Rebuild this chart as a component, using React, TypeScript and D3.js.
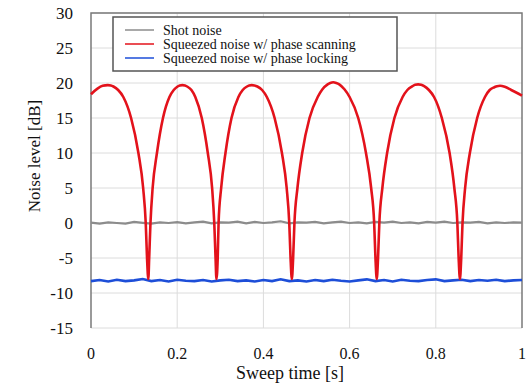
import React from "react";
import * as d3 from "d3";

const W = 526;
const H = 386;

const xTicks = [0, 0.2, 0.4, 0.6, 0.8, 1];
const xTickLabels = ["0", "0.2", "0.4", "0.6", "0.8", "1"];
const yTicks = [-15, -10, -5, 0, 5, 10, 15, 20, 25, 30];

const legendLabels = [
  "Shot noise",
  "Squeezed noise w/ phase scanning",
  "Squeezed noise w/ phase locking",
];
const seriesColors = ["#8c8c8c", "#e3121b", "#1d4ed8"];

// Squeezed noise w/ phase scanning: [time, dB]
const scanX = [
  0, 0.015, 0.027, 0.039, 0.046, 0.052, 0.063, 0.075, 0.093, 0.110, 0.121, 0.127, 0.130, 0.133,
  0.135, 0.138, 0.143, 0.153, 0.167, 0.182, 0.192, 0.201, 0.206, 0.212, 0.218,
  0.223, 0.233, 0.242, 0.257, 0.271, 0.281, 0.286, 0.289, 0.291,
  0.294, 0.296, 0.302, 0.312, 0.326, 0.342, 0.352, 0.362, 0.367, 0.373, 0.379,
  0.386, 0.397, 0.408, 0.426, 0.443, 0.454, 0.460, 0.463, 0.466,
  0.469, 0.472, 0.479, 0.490, 0.507, 0.526, 0.537, 0.549, 0.555, 0.562, 0.569,
  0.576, 0.588, 0.600, 0.620, 0.638, 0.650, 0.657, 0.660, 0.663,
  0.666, 0.669, 0.676, 0.687, 0.704, 0.723, 0.734, 0.746, 0.752, 0.759, 0.766,
  0.773, 0.784, 0.796, 0.814, 0.832, 0.843, 0.850, 0.853, 0.856,
  0.859, 0.862, 0.868, 0.879, 0.896, 0.914, 0.925, 0.936, 0.942, 0.949, 0.960,
  0.975, 1.0,
];
const scanY = [
  18.4, 19.2, 19.6, 19.7, 19.65, 19.5, 19, 18, 15, 10, 5, 0, -5, -8,
  -5, 0, 5, 10, 15, 18, 19, 19.5, 19.65, 19.7, 19.65,
  19.5, 19, 18, 15, 10, 5, 0, -5, -8,
  -5, 0, 5, 10, 15, 18, 19, 19.5, 19.65, 19.7, 19.65,
  19.5, 19, 18, 15, 10, 5, 0, -5, -8,
  -5, 0, 5, 10, 15, 18, 19.1, 19.8, 20.0, 20.1, 20.0,
  19.8, 19.1, 18, 15, 10, 5, 0, -5, -8,
  -5, 0, 5, 10, 15, 18, 19, 19.55, 19.75, 19.8, 19.75,
  19.55, 19, 18, 15, 10, 5, 0, -5, -8,
  -5, 0, 5, 10, 15, 18, 19, 19.4, 19.55, 19.6, 19.45,
  19.0, 18.2,
];

// Shot noise and phase-locked squeezed noise (flat traces with small ripple)
const flatX = [
  0, 0.02, 0.04, 0.06, 0.08, 0.1, 0.12, 0.14, 0.16, 0.18, 0.2, 0.22, 0.24,
  0.26, 0.28, 0.3, 0.32, 0.34, 0.36, 0.38, 0.4, 0.42, 0.44, 0.46, 0.48, 0.5,
  0.52, 0.54, 0.56, 0.58, 0.6, 0.62, 0.64, 0.66, 0.68, 0.7, 0.72, 0.74, 0.76,
  0.78, 0.8, 0.82, 0.84, 0.86, 0.88, 0.9, 0.92, 0.94, 0.96, 0.98, 1.0,
];
const shotY = [
  0.05, -0.1, 0.1, 0, -0.08, 0.15, 0.02, -0.1, 0.1, 0.0, 0.12, -0.05, 0.08,
  0.2, -0.05, 0.1, 0.05, 0.2, -0.05, 0.15, 0.0, 0.1, 0.25, -0.05, 0.1, 0.05,
  0.15, -0.05, 0.1, 0.2, 0.0, 0.1, -0.05, 0.15, 0.05, 0.2, 0.0, 0.1, -0.05,
  0.15, 0.05, 0.2, 0.0, 0.1, 0.05, 0.15, -0.05, 0.1, 0.0, 0.1, 0.05,
];
const lockY = [
  -8.3, -8.15, -8.35, -8.1, -8.3, -8.2, -8.0, -8.3, -8.15, -8.35, -8.1, -8.25,
  -8.3, -8.15, -8.35, -8.2, -8.1, -8.3, -8.2, -8.35, -8.15, -8.3, -8.05, -8.3,
  -8.2, -8.35, -8.15, -8.3, -8.1, -8.25, -8.35, -8.2, -8.05, -8.3, -8.15, -8.35,
  -8.1, -8.25, -8.3, -8.15, -8.05, -8.3, -8.2, -8.1, -8.3, -8.15, -8.25, -8.1,
  -8.3, -8.2, -8.15,
];

export default function App() {
  const left = 91;
  const right = 522;
  const top = 13;
  const bottom = 328;

  const x = d3.scaleLinear().domain([0, 1]).range([left, right]);
  const y = d3.scaleLinear().domain([-15, 30]).range([bottom, top]);

  const line = d3
    .line<[number, number]>()
    .x((d) => x(d[0]))
    .y((d) => y(d[1]))
    .curve(d3.curveMonotoneX);
  const straight = d3
    .line<[number, number]>()
    .x((d) => x(d[0]))
    .y((d) => y(d[1]));

  const scanPts = scanX.map((v, i) => [v, scanY[i]] as [number, number]);
  const shotPts = flatX.map((v, i) => [v, shotY[i]] as [number, number]);
  const lockPts = flatX.map((v, i) => [v, lockY[i]] as [number, number]);

  const font = "Liberation Serif, DejaVu Serif, serif";

  return (
    <svg
      width={W}
      height={H}
      style={{ position: "absolute", left: 0, top: 0, background: "#fff", fontFamily: font }}
    >
      {/* grid */}
      {yTicks.map((t) => (
        <line key={"gy" + t} x1={left} x2={right} y1={y(t)} y2={y(t)} stroke="#dcdcdc" strokeWidth={1} />
      ))}
      {xTicks.slice(1, -1).map((t) => (
        <line key={"gx" + t} x1={x(t)} x2={x(t)} y1={top} y2={bottom} stroke="#dcdcdc" strokeWidth={1} />
      ))}
      {/* frame */}
      <path
        d={`M${left},${bottom}V${top}H${right}V${bottom}`}
        fill="none"
        stroke="#7a7a7a"
        strokeWidth={1.5}
      />

      {/* series */}
      <path d={straight(shotPts) || ""} fill="none" stroke={seriesColors[0]} strokeWidth={2.2} />
      <path d={straight(lockPts) || ""} fill="none" stroke={seriesColors[2]} strokeWidth={2.6} />
      <path d={line(scanPts) || ""} fill="none" stroke={seriesColors[1]} strokeWidth={2.6} strokeLinejoin="round" />

      {/* y tick labels */}
      {yTicks.map((t) => (
        <text key={"yl" + t} x={73} y={y(t)} dy="0.35em" textAnchor="end" fontSize={17} fill="#111" fontFamily={font}>
          {t}
        </text>
      ))}
      {/* x tick labels */}
      {xTicks.map((t, i) => (
        <text key={"xl" + t} x={x(t)} y={359} textAnchor="middle" fontSize={16} fill="#111" fontFamily={font}>
          {xTickLabels[i]}
        </text>
      ))}
      <text x={290} y={379} textAnchor="middle" fontSize={18} fill="#111" fontFamily={font}>
        Sweep time [s]
      </text>
      <text
        transform={`translate(40,156) rotate(-90)`}
        textAnchor="middle"
        fontSize={17}
        fill="#111"
        fontFamily={font}
      >
        Noise level [dB]
      </text>

      {/* legend */}
      <rect x={113} y={17} width={284} height={54} fill="#fff" stroke="#555" strokeWidth={1.5} />
      {legendLabels.map((l, i) => (
        <g key={l}>
          <line x1={125} x2={154} y1={30 + i * 14} y2={30 + i * 14} stroke={seriesColors[i]} strokeWidth={1.5} />
          <text x={163} y={30 + i * 14} dy="0.33em" fontSize={14} fill="#111" fontFamily={font}>
            {l}
          </text>
        </g>
      ))}
    </svg>
  );
}
